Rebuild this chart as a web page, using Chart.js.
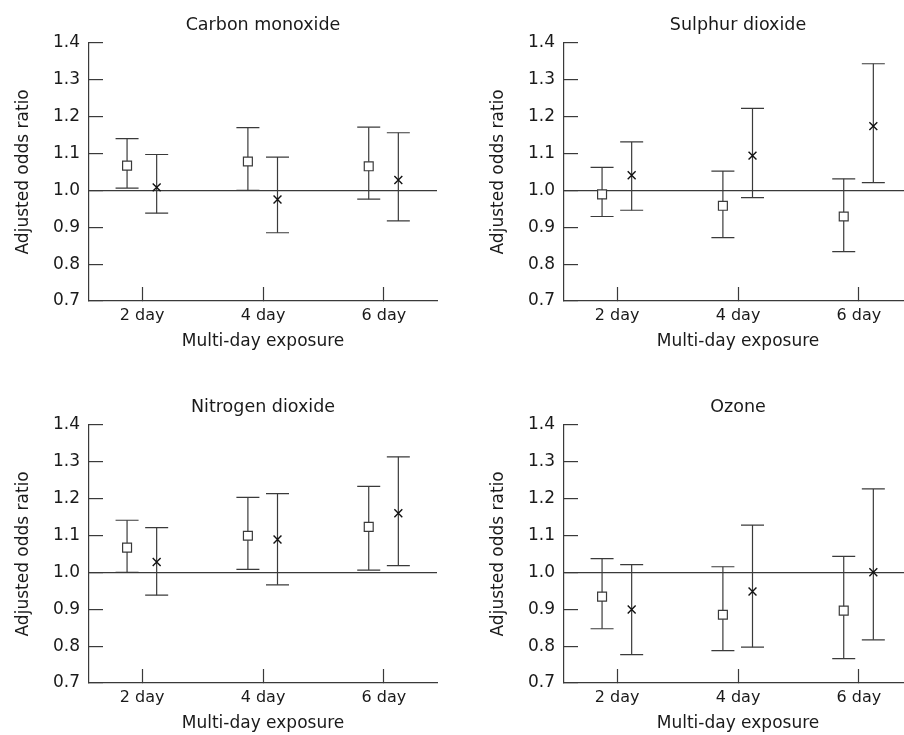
<!DOCTYPE html>
<html>
<head>
<meta charset="utf-8">
<script src="https://cdn.jsdelivr.net/npm/chart.js@4.4.1/dist/chart.umd.min.js"></script>
<style>
    html, body { margin: 0; padding: 0; background: #fff; overflow: hidden; }
    #wrap { position: relative; width: 904px; height: 735px; overflow: hidden; }
    canvas { position: absolute; }
</style>
</head>
<body>
<div id="wrap">
    <canvas id="c0" width="460" height="370" style="left:0px;top:0px"></canvas>
    <canvas id="c1" width="460" height="370" style="left:475px;top:0px"></canvas>
    <canvas id="c2" width="460" height="370" style="left:0px;top:382px"></canvas>
    <canvas id="c3" width="460" height="370" style="left:475px;top:382px"></canvas>
</div>
<script>
// 類別與刻度
const dayLabels = ['2 day', '4 day', '6 day'];
const dayPositions = [1, 2, 3];
const yMin = 0.7, yMax = 1.4, yStep = 0.1;
const panelTitles = ['Carbon monoxide', 'Sulphur dioxide', 'Nitrogen dioxide', 'Ozone'];

// Carbon monoxide
const coSquareOR = [1.067, 1.078, 1.065];
const coSquareLo = [1.006, 1.000, 0.976];
const coSquareHi = [1.140, 1.170, 1.171];
const coCrossOR = [1.008, 0.975, 1.028];
const coCrossLo = [0.938, 0.885, 0.917];
const coCrossHi = [1.097, 1.090, 1.156];

// Sulphur dioxide
const so2SquareOR = [0.989, 0.958, 0.929];
const so2SquareLo = [0.929, 0.872, 0.834];
const so2SquareHi = [1.062, 1.052, 1.031];
const so2CrossOR = [1.041, 1.094, 1.174];
const so2CrossLo = [0.946, 0.980, 1.021];
const so2CrossHi = [1.131, 1.222, 1.343];

// Nitrogen dioxide
const no2SquareOR = [1.067, 1.099, 1.123];
const no2SquareLo = [1.000, 1.008, 1.006];
const no2SquareHi = [1.141, 1.203, 1.233];
const no2CrossOR = [1.028, 1.089, 1.160];
const no2CrossLo = [0.938, 0.966, 1.018];
const no2CrossHi = [1.121, 1.213, 1.313];

// Ozone
const o3SquareOR = [0.934, 0.885, 0.896];
const o3SquareLo = [0.847, 0.788, 0.766];
const o3SquareHi = [1.037, 1.015, 1.043];
const o3CrossOR = [0.899, 0.948, 1.000];
const o3CrossLo = [0.777, 0.797, 0.817];
const o3CrossHi = [1.021, 1.128, 1.226];

const panels = [
    { square: [coSquareOR, coSquareLo, coSquareHi], cross: [coCrossOR, coCrossLo, coCrossHi] },
    { square: [so2SquareOR, so2SquareLo, so2SquareHi], cross: [so2CrossOR, so2CrossLo, so2CrossHi] },
    { square: [no2SquareOR, no2SquareLo, no2SquareHi], cross: [no2CrossOR, no2CrossLo, no2CrossHi] },
    { square: [o3SquareOR, o3SquareLo, o3SquareHi], cross: [o3CrossOR, o3CrossLo, o3CrossHi] }
];

const ink = '#3a3a3a';
const textInk = '#1a1a1a';
const fontFamily = '"DejaVu Sans", sans-serif';
const squareShift = -0.125;
const crossShift = 0.12;

Chart.defaults.font.family = fontFamily;
Chart.defaults.color = textInk;

// 誤差線: lo -> hi, 以 null 分段
function errorBarData(lo, hi, shift) {
    const pts = [];
    dayPositions.forEach((p, i) => {
        pts.push({ x: p + shift, y: lo[i] });
        pts.push({ x: p + shift, y: hi[i] });
        pts.push({ x: p + shift, y: null });
    });
    return pts;
}

function pointData(est, shift) {
    return dayPositions.map((p, i) => ({ x: p + shift, y: est[i] }));
}

function buildChart(canvasId, title, panel) {
    const ctx = document.getElementById(canvasId).getContext('2d');
    return new Chart(ctx, {
        type: 'line',
        data: {
            datasets: [
                {
                    type: 'scatter',
                    data: pointData(panel.square[0], squareShift),
                    pointStyle: 'rect',
                    pointRadius: 6.3,
                    pointBackgroundColor: '#fff',
                    pointBorderColor: ink,
                    pointBorderWidth: 1.2,
                    order: 0
                },
                {
                    type: 'scatter',
                    data: pointData(panel.cross[0], crossShift),
                    pointStyle: 'crossRot',
                    pointRadius: 5.6,
                    pointBorderColor: '#111',
                    pointBorderWidth: 1.4,
                    order: 0
                },
                {
                    data: errorBarData(panel.square[1], panel.square[2], squareShift),
                    borderColor: ink,
                    borderWidth: 1.2,
                    spanGaps: false,
                    pointStyle: 'line',
                    pointRadius: 11.5,
                    pointBorderColor: ink,
                    pointBorderWidth: 1.2,
                    order: 1
                },
                {
                    data: errorBarData(panel.cross[1], panel.cross[2], crossShift),
                    borderColor: ink,
                    borderWidth: 1.2,
                    spanGaps: false,
                    pointStyle: 'line',
                    pointRadius: 11.5,
                    pointBorderColor: ink,
                    pointBorderWidth: 1.2,
                    order: 1
                }
            ]
        },
        options: {
            responsive: false,
            animation: false,
            devicePixelRatio: 1,
            layout: { padding: { left: 0, right: 23, top: 0, bottom: 0 } },
            plugins: {
                legend: { display: false },
                tooltip: { enabled: false },
                title: {
                    display: true,
                    text: title,
                    fullSize: false,
                    color: textInk,
                    font: { size: 17.5, weight: 'normal' },
                    padding: { top: 14.5, bottom: 7.2 }
                }
            },
            scales: {
                x: {
                    type: 'linear',
                    min: 0.56,
                    max: 3.44,
                    afterBuildTicks: (scale) => {
                        scale.ticks = dayPositions.map(v => ({ value: v }));
                    },
                    afterFit: (scale) => { scale.height = 69; },
                    ticks: {
                        autoSkip: false,
                        maxRotation: 0,
                        padding: 19.4,
                        font: { size: 16 },
                        color: textInk,
                        callback: (value, index) => dayLabels[index]
                    },
                    grid: {
                        drawOnChartArea: false,
                        tickLength: -14,
                        tickColor: ink,
                        tickWidth: 1.2
                    },
                    border: { display: true, color: ink, width: 1.2 },
                    title: {
                        display: true,
                        text: 'Multi-day exposure',
                        color: textInk,
                        font: { size: 17 },
                        padding: { top: 0, bottom: 17.8 }
                    }
                },
                y: {
                    min: yMin,
                    max: yMax,
                    afterFit: (scale) => { scale.width = 89; },
                    ticks: {
                        stepSize: yStep,
                        padding: 23,
                        font: { size: 17 },
                        color: textInk,
                        callback: (value) => value.toFixed(1)
                    },
                    grid: {
                        drawOnChartArea: true,
                        color: (c) => (c.tick && Math.abs(c.tick.value - 1) < 1e-6) ? ink : 'rgba(0,0,0,0)',
                        lineWidth: 1.2,
                        tickLength: -14,
                        tickColor: ink,
                        tickWidth: 1.2
                    },
                    border: { display: true, color: ink, width: 1.2 },
                    title: {
                        display: true,
                        text: 'Adjusted odds ratio',
                        color: textInk,
                        font: { size: 17 },
                        padding: { top: 13.8, bottom: 0 }
                    }
                }
            }
        }
    });
}

panels.forEach((panel, i) => buildChart('c' + i, panelTitles[i], panel));
</script>
</body>
</html>
